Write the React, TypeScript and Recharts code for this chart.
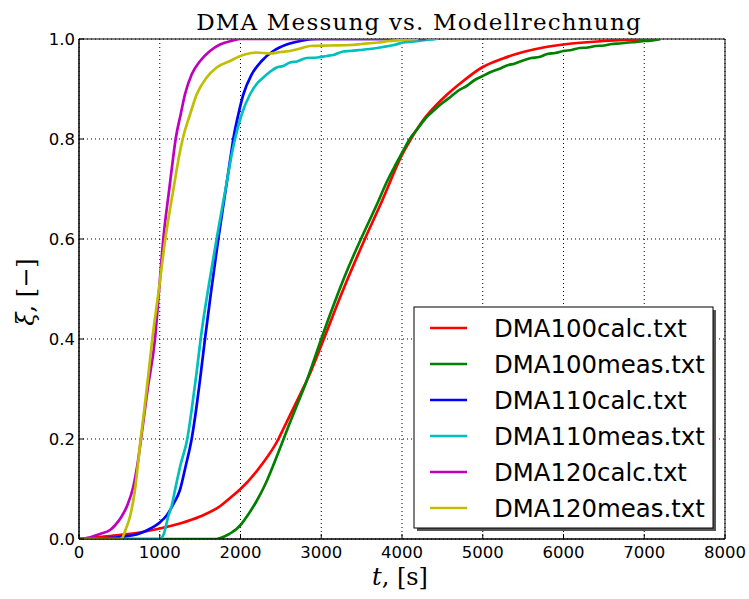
import React from "react";
import {
  LineChart,
  Line,
  XAxis,
  YAxis,
  CartesianGrid,
  ReferenceArea,
} from "recharts";

// time [s] / degree of cure
const dma100calc: [number, number][] = [
  [0, 0], [250, 0.004], [500, 0.008], [750, 0.013], [1000, 0.021], [1250, 0.031],
  [1500, 0.045], [1750, 0.066], [1870, 0.082], [2000, 0.1], [2250, 0.146],
  [2470, 0.2], [2530, 0.22], [2750, 0.293], [2825, 0.318], [3000, 0.387],
  [3250, 0.49], [3540, 0.6], [3750, 0.675], [4000, 0.768], [4110, 0.8],
  [4250, 0.835], [4500, 0.88], [4750, 0.915], [5000, 0.944], [5250, 0.961],
  [5500, 0.974], [5750, 0.983], [6000, 0.989], [6250, 0.993], [6500, 0.996],
  [6750, 0.998], [7000, 0.999], [7200, 1.0],
];

const dma100meas: [number, number][] = [
  [0, 0], [1000, 0], [1700, 0], [1750, 0.002], [1800, 0.005], [1850, 0.009],
  [1900, 0.014], [1950, 0.02], [2000, 0.028], [2100, 0.05], [2200, 0.076],
  [2300, 0.107], [2400, 0.145], [2500, 0.186], [2600, 0.228], [2700, 0.268],
  [2800, 0.308], [2900, 0.353], [3000, 0.4], [3100, 0.445], [3200, 0.488],
  [3300, 0.529], [3400, 0.567], [3500, 0.603], [3600, 0.638], [3700, 0.673],
  [3800, 0.71], [3900, 0.742], [4000, 0.772], [4100, 0.801], [4200, 0.822],
  [4300, 0.843], [4400, 0.858], [4500, 0.872], [4600, 0.884], [4700, 0.897],
  [4800, 0.906], [4900, 0.918], [5000, 0.926], [5100, 0.934], [5200, 0.94],
  [5300, 0.947], [5400, 0.951], [5500, 0.957], [5600, 0.962], [5700, 0.964],
  [5800, 0.97], [5900, 0.972], [6000, 0.976], [6100, 0.978], [6200, 0.982],
  [6300, 0.983], [6400, 0.986], [6500, 0.987], [6600, 0.99], [6700, 0.991],
  [6800, 0.993], [6900, 0.994], [7000, 0.996], [7100, 0.997], [7200, 1.0],
];

const dma110calc: [number, number][] = [
  [0, 0], [250, 0.001], [500, 0.004], [750, 0.011], [850, 0.018], [1000, 0.033],
  [1085, 0.047], [1170, 0.07], [1250, 0.098], [1320, 0.145], [1395, 0.2],
  [1450, 0.258], [1500, 0.32], [1560, 0.4], [1640, 0.5], [1725, 0.6],
  [1818, 0.7], [1881, 0.768], [1911, 0.8], [1973, 0.849], [2035, 0.889],
  [2138, 0.929], [2262, 0.956], [2406, 0.976], [2571, 0.989], [2775, 0.997],
  [2950, 1.0], [4400, 1.0],
];

const dma110meas: [number, number][] = [
  [0, 0], [1000, 0], [1050, 0.01], [1105, 0.045], [1150, 0.068], [1189, 0.098],
  [1260, 0.15], [1341, 0.2], [1395, 0.258], [1450, 0.325], [1519, 0.415],
  [1610, 0.51], [1704, 0.6], [1815, 0.7], [1890, 0.768], [1932, 0.8],
  [2014, 0.849], [2117, 0.889], [2200, 0.91], [2283, 0.923], [2370, 0.935],
  [2448, 0.943], [2530, 0.946], [2613, 0.953], [2700, 0.955], [2820, 0.962],
  [2950, 0.963], [3067, 0.966], [3150, 0.968], [3270, 0.975], [3350, 0.976],
  [3480, 0.978], [3600, 0.98], [3765, 0.984], [3900, 0.988], [4012, 0.993],
  [4150, 0.995], [4300, 0.998], [4430, 1.0],
];

const dma120calc: [number, number][] = [
  [0, 0], [130, 0.003], [260, 0.01], [384, 0.018], [450, 0.028], [528, 0.045],
  [600, 0.068], [673, 0.105], [720, 0.145], [760, 0.19], [850, 0.3], [941, 0.4],
  [993, 0.5], [1044, 0.6], [1118, 0.7], [1170, 0.768], [1197, 0.8],
  [1259, 0.849], [1312, 0.889], [1395, 0.929], [1500, 0.956], [1622, 0.976],
  [1746, 0.989], [1907, 0.997], [2000, 1.0], [4300, 1.0],
];

const dma120meas: [number, number][] = [
  [0, 0], [500, 0], [528, 0.001], [580, 0.02], [632, 0.045], [693, 0.098],
  [764, 0.2], [810, 0.26], [860, 0.33], [908, 0.4], [990, 0.5], [1069, 0.6],
  [1170, 0.7], [1242, 0.768], [1284, 0.8], [1375, 0.849], [1457, 0.889],
  [1581, 0.923], [1705, 0.943], [1870, 0.956], [2031, 0.968], [2200, 0.973],
  [2370, 0.971], [2500, 0.974], [2613, 0.976], [2740, 0.981], [2860, 0.986],
  [3100, 0.987], [3356, 0.988], [3500, 0.99], [3700, 0.993], [3850, 0.996],
  [4000, 0.998], [4200, 1.0],
];

const seriesNames = [
  "DMA100calc.txt",
  "DMA100meas.txt",
  "DMA110calc.txt",
  "DMA110meas.txt",
  "DMA120calc.txt",
  "DMA120meas.txt",
];
const seriesColors = ["#ff0000", "#008000", "#0000ff", "#00bfbf", "#bf00bf", "#bfbf00"];
const seriesData = [dma100calc, dma100meas, dma110calc, dma110meas, dma120calc, dma120meas];

const xTicks = [0, 1000, 2000, 3000, 4000, 5000, 6000, 7000, 8000];
const yTicks = [0, 0.2, 0.4, 0.6, 0.8, 1.0];

const tickStyle = { fontFamily: "DejaVu Sans", fontSize: 16.5, fill: "#000" };
const serif = "DejaVu Serif";

export default function App() {
  return (
    <div style={{ position: "absolute", left: 0, top: 0, width: 749, height: 599, background: "#fff" }}>
      <LineChart width={749} height={599} margin={{ top: 39, right: 24, bottom: 0, left: 0 }}>
        <CartesianGrid stroke="#000" strokeDasharray="1 3" strokeWidth={1} />
        <XAxis
          type="number"
          dataKey="t"
          domain={[0, 8000]}
          ticks={xTicks}
          height={60}
          tick={tickStyle}
          tickSize={-5}
          tickMargin={12}
          axisLine={{ stroke: "#000" }}
          tickLine={{ stroke: "#000" }}
          allowDataOverflow
        />
        <YAxis
          type="number"
          domain={[0, 1]}
          ticks={yTicks}
          width={79}
          tick={tickStyle}
          tickFormatter={(v: number) => v.toFixed(1)}
          tickSize={-5}
          tickMargin={9}
          axisLine={{ stroke: "#000" }}
          tickLine={{ stroke: "#000" }}
          allowDataOverflow
        />
        {seriesData.map((pts, i) => (
          <Line
            key={seriesNames[i]}
            data={pts.map(([t, v]) => ({ t, v }))}
            dataKey="v"
            name={seriesNames[i]}
            stroke={seriesColors[i]}
            strokeWidth={2.7}
            type="monotone"
            dot={false}
            isAnimationActive={false}
          />
        ))}
        <ReferenceArea x1={0} x2={8000} y1={0} y2={1} fill="none" stroke="#000" strokeWidth={1} />
      </LineChart>

      <svg
        width={749}
        height={599}
        style={{ position: "absolute", left: 0, top: 0, pointerEvents: "none" }}
      >
        <text x={419} y={30} textAnchor="middle" fontFamily={serif} fontSize={23} letterSpacing={1.2}>
          DMA Messung vs. Modellrechnung
        </text>
        <text x={400} y={585} textAnchor="middle" fontFamily={serif} fontSize={24}>
          <tspan fontStyle="italic">t</tspan>, [s]
        </text>
        <text
          transform="translate(34 292) rotate(-90)"
          textAnchor="middle"
          fontFamily={serif}
          fontSize={24}
        >
          <tspan fontStyle="italic">ξ</tspan>, [−]
        </text>

        <rect x={417} y={310} width={299} height={221} fill="#555" />
        <rect x={414} y={307} width={299} height={221} fill="#fff" stroke="#000" strokeWidth={1} />
        {seriesNames.map((name, i) => {
          const cy = 328 + i * 36;
          return (
            <g key={name}>
              <line x1={430} x2={467} y1={cy} y2={cy} stroke={seriesColors[i]} strokeWidth={2.7} />
              <text x={494} y={cy + 8.7} fontFamily="DejaVu Sans" fontSize={24.4} fill="#000">
                {name}
              </text>
            </g>
          );
        })}
      </svg>
    </div>
  );
}
